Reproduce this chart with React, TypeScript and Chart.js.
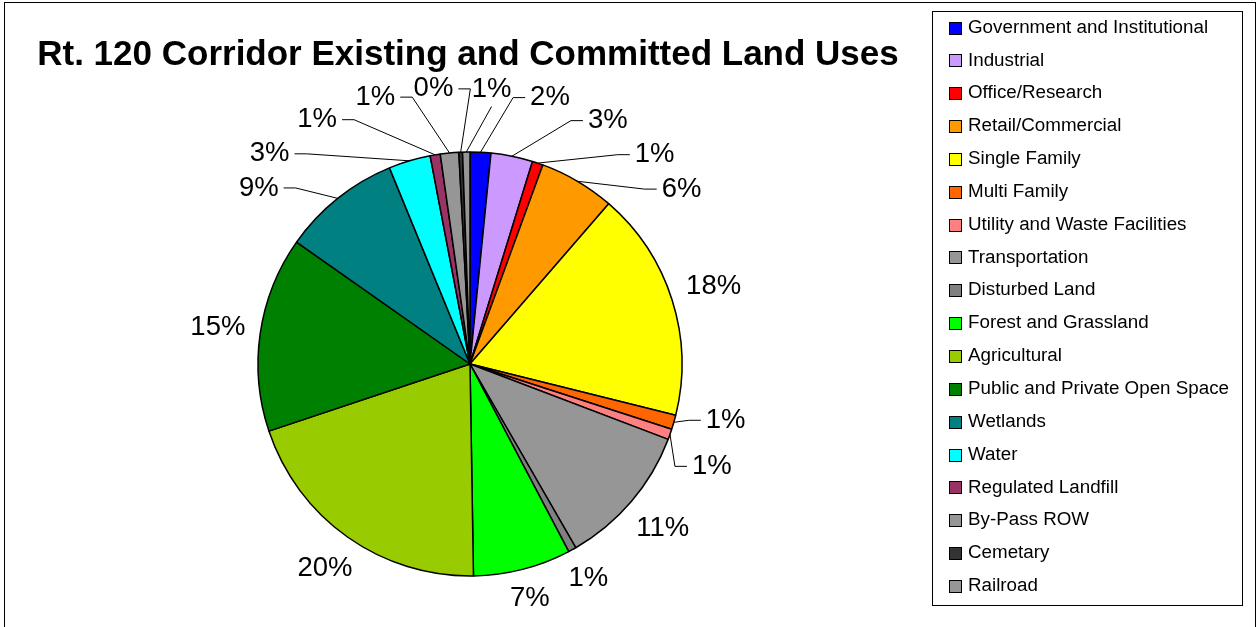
import React, { useEffect, useRef } from "react";
import { Chart, registerables } from "chart.js";

Chart.register(...registerables);

const TITLE = "Rt. 120 Corridor Existing and Committed Land Uses";

const categories = [
  "Government and Institutional",
  "Industrial",
  "Office/Research",
  "Retail/Commercial",
  "Single Family",
  "Multi Family",
  "Utility and Waste Facilities",
  "Transportation",
  "Disturbed Land",
  "Forest and Grassland",
  "Agricultural",
  "Public and Private Open Space",
  "Wetlands",
  "Water",
  "Regulated Landfill",
  "By-Pass ROW",
  "Cemetary",
  "Railroad",
];

// share of corridor area, percent
const shares = [1.58, 3.18, 0.82, 5.77, 17.53, 1.1, 0.8, 10.9, 0.6, 7.45, 20.13, 14.87, 9.05, 3.19, 0.77, 1.4, 0.28, 0.56];

const sliceColors = [
  "#0000FF",
  "#CC99FF",
  "#FF0000",
  "#FF9900",
  "#FFFF00",
  "#FF6600",
  "#FF8080",
  "#969696",
  "#808080",
  "#00FF00",
  "#99CC00",
  "#008000",
  "#008080",
  "#00FFFF",
  "#993366",
  "#969696",
  "#333333",
  "#969696",
];

const FONT = '"Liberation Sans", Arial, Helvetica, sans-serif';

const decorPlugin = {
  id: "decor",
  beforeDraw(chart: any) {
    const ctx = chart.ctx as CanvasRenderingContext2D;
    ctx.save();
    ctx.fillStyle = "#ffffff";
    ctx.fillRect(0, 0, chart.width, chart.height);
    ctx.restore();
  },
  afterDraw(chart: any) {
    const ctx = chart.ctx as CanvasRenderingContext2D;
    ctx.save();

    // outer frame
    ctx.strokeStyle = "#000";
    ctx.lineWidth = 1;
    ctx.strokeRect(4.5, 2.5, chart.width - 6, chart.height + 10);

    // title
    ctx.font = `bold 35px ${FONT}`;
    ctx.fillStyle = "#000";
    ctx.textAlign = "center";
    ctx.textBaseline = "alphabetic";
    ctx.fillText(TITLE, 468, 65);

    // legend
    const labels = chart.data.labels as string[];
    const colors = chart.data.datasets[0].backgroundColor as string[];
    ctx.strokeStyle = "#000";
    ctx.lineWidth = 1;
    ctx.strokeRect(932.5, 11.5, 310, 594);
    ctx.font = `18.8px ${FONT}`;
    ctx.textAlign = "left";
    ctx.textBaseline = "middle";
    labels.forEach((lab, i) => {
      const y = 27.5 + i * 32.85;
      ctx.fillStyle = colors[i];
      ctx.fillRect(949.5, Math.round(y) - 5.5, 12, 12);
      ctx.strokeStyle = "#000";
      ctx.strokeRect(949.5, Math.round(y) - 5.5, 12, 12);
      ctx.fillStyle = "#000";
      ctx.fillText(lab, 968, y);
    });

    // data labels with leader lines
    const meta = chart.getDatasetMeta(0);
    const data = chart.data.datasets[0].data as number[];
    const total = data.reduce((a, b) => a + b, 0);
    const arcs = meta.data.map((el: any) =>
      el.getProps(["x", "y", "startAngle", "endAngle", "outerRadius"], true)
    );
    const cx = arcs[0].x;
    const cy = arcs[0].y;
    const r = arcs[0].outerRadius;
    ctx.font = `27.5px ${FONT}`;
    const items = arcs.map((a: any, i: number) => {
      const text = Math.round((data[i] / total) * 100) + "%";
      return { text, w: ctx.measureText(text).width, h: 22, mid: (a.startAngle + a.endAngle) / 2 };
    });
    const n = items.length;
    const place = (it: any, ang: number, g: number) => {
      const s = Math.abs((it.w / 2) * Math.cos(ang)) + Math.abs((it.h / 2) * Math.sin(ang));
      const R = r + g + s;
      return { x: cx + R * Math.cos(ang), y: cy + R * Math.sin(ang) };
    };
    const relax = (gaps: number[], padX: number, padY: number, sideY: number) => {
      const ang = items.map((it: any) => it.mid);
      for (let iter = 0; iter < 8000; iter++) {
        let moved = false;
        for (let i = 0; i < n; i++) {
          const j = (i + 1) % n;
          const A = place(items[i], ang[i], gaps[i]);
          const B = place(items[j], ang[j], gaps[j]);
          const side = Math.min(
            Math.pow(Math.abs(Math.cos(items[i].mid)), 4),
            Math.pow(Math.abs(Math.cos(items[j].mid)), 4)
          );
          const ox = (items[i].w + items[j].w) / 2 + padX - Math.abs(A.x - B.x);
          const oy = (items[i].h + items[j].h) / 2 + padY + sideY * side - Math.abs(A.y - B.y);
          if (ox > 0 && oy > 0) {
            ang[i] -= 0.002;
            ang[j] += 0.002;
            moved = true;
          }
        }
        if (!moved) break;
      }
      return ang;
    };
    const g0 = 14;
    const ang1 = relax(items.map(() => g0), 4, 4, 0);
    const lead1 = items.map((it: any, i: number) => Math.abs(ang1[i] - it.mid) > 0.01);
    const gaps2 = items.map((it: any, i: number) => {
      if (!lead1[i]) return g0;
      const up = Math.pow(Math.max(0, -Math.sin(it.mid)), 4);
      const left = Math.min(1, Math.max(0, -Math.cos(it.mid) * 4));
      return 28 + 22 * up + 12 * up * left;
    });
    const ang2 = relax(gaps2, 18, 12, 14);
    const lead2 = items.map((it: any, i: number) => lead1[i] || Math.abs(ang2[i] - it.mid) > 0.01);

    ctx.strokeStyle = "#000";
    ctx.lineWidth = 1;
    ctx.fillStyle = "#000";
    ctx.textAlign = "center";
    ctx.textBaseline = "middle";
    items.forEach((it: any, i: number) => {
      const ang = ang2[i];
      const p = place(it, ang, gaps2[i]);
      if (lead2[i]) {
        const ex = cx + r * Math.cos(it.mid);
        const ey = cy + r * Math.sin(it.mid);
        const c = Math.cos(ang);
        ctx.beginPath();
        ctx.moveTo(ex, ey);
        if (Math.abs(c) < 0.12) {
          const ty = p.y + (Math.sin(ang) < 0 ? it.h / 2 + 6 : -(it.h / 2 + 6));
          ctx.lineTo(p.x, ty);
        } else {
          const side = c > 0 ? 1 : -1;
          const tx = p.x - side * (it.w / 2 + 5);
          const kx = tx - side * 12;
          ctx.lineTo(kx, p.y);
          ctx.lineTo(tx, p.y);
        }
        ctx.stroke();
      }
      ctx.fillText(it.text, p.x, p.y);
    });

    ctx.restore();
  },
};

export default function App() {
  const ref = useRef<HTMLCanvasElement>(null);
  useEffect(() => {
    const chart = new Chart(ref.current as HTMLCanvasElement, {
      type: "pie",
      data: {
        labels: categories,
        datasets: [
          {
            data: shares,
            backgroundColor: sliceColors,
            borderColor: "#000",
            borderWidth: 1.5,
            radius: 212,
          } as any,
        ],
      },
      options: {
        responsive: false,
        animation: false,
        events: [],
        layout: { padding: { left: 258, right: 575, top: 152, bottom: 51 } },
        plugins: {
          legend: { display: false },
          title: { display: false },
          tooltip: { enabled: false },
        },
      },
      plugins: [decorPlugin],
    });
    return () => chart.destroy();
  }, []);
  return (
    <canvas
      ref={ref}
      width={1257}
      height={627}
      style={{ position: "fixed", left: 0, top: 0, width: 1257, height: 627, display: "block" }}
    />
  );
}
